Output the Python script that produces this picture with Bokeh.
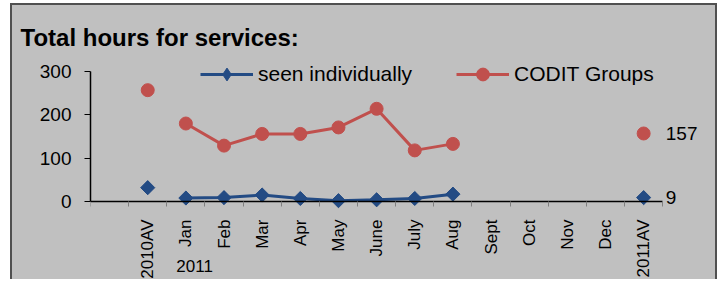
from bokeh.plotting import figure
from bokeh.models import (ColumnDataSource, FixedTicker, Range1d, Legend, LegendItem, Label)
from bokeh.embed import file_html
from bokeh.resources import INLINE
import math

# ---- data ----
categories = ["2010AV", "Jan", "Feb", "Mar", "Apr", "May", "June", "July",
              "Aug", "Sept", "Oct", "Nov", "Dec", "2011AV"]
months_with_data = ["Jan", "Feb", "Mar", "Apr", "May", "June", "July", "Aug"]
seen_individually = [8, 9, 15, 7, 2, 4, 7, 17]
codit_groups = [180, 129, 156, 156, 171, 214, 118, 133]
avg2010_individual = 32
avg2010_codit = 257
avg2011_individual = 9
avg2011_codit = 157
y_ticks = [0, 100, 200, 300]
year_label = "2011"
series_names = ["seen individually", "CODIT Groups"]

BLUE = "#234B84"
RED = "#C0504D"
BG = "#C0C0C0"
EDGE = "#505050"
FONT = "Liberation Sans"

pos = {c: i + 1.5 for i, c in enumerate(categories)}  # slot 0 is empty

p = figure(width=707, height=276, output_backend="svg", toolbar_location=None,
           x_range=Range1d(0, 16.2), y_range=Range1d(-180, 337),
           min_border_left=78, min_border_right=11, min_border_top=50,
           min_border_bottom=2)
p.background_fill_color = BG
p.border_fill_color = BG
p.outline_line_color = None
p.grid.visible = False
p.styles = {"margin-left": "10px", "margin-top": "3px", "background-color": BG,
            "border-left": f"2px solid {EDGE}", "border-top": f"2px solid {EDGE}",
            "border-right": f"2px solid {EDGE}"}

# title
p.title.text = "Total hours for services:"
p.title.text_font = FONT
p.title.text_font_size = "24px"
p.title.text_font_style = "bold"
p.title.text_color = "black"
p.title.align = "left"
p.title.offset = -70
p.title.standoff = 9

mx = [pos[m] for m in months_with_data]
av_x = [pos["2010AV"], pos["2011AV"]]
src_ind = ColumnDataSource(dict(x=mx, y=seen_individually))
src_cod = ColumnDataSource(dict(x=mx, y=codit_groups))
src_ind_all = ColumnDataSource(dict(x=[av_x[0]] + mx + [av_x[1]],
                                    y=[avg2010_individual] + seen_individually + [avg2011_individual]))
src_cod_all = ColumnDataSource(dict(x=[av_x[0]] + mx + [av_x[1]],
                                    y=[avg2010_codit] + codit_groups + [avg2011_codit]))

l1 = p.line("x", "y", source=src_ind, line_color=BLUE, line_width=3)
k1 = p.scatter("x", "y", source=src_ind_all, marker="diamond", size=13,
               fill_color=BLUE, line_color=BLUE)
p.scatter("x", "y", source=src_ind_all, marker="square", size=10, angle=math.pi / 4,
          fill_color=BLUE, line_color=BLUE)
l2 = p.line("x", "y", source=src_cod, line_color=RED, line_width=3)
k2 = p.scatter("x", "y", source=src_cod_all, marker="circle", size=13,
               fill_color=RED, line_color=RED)

# axes
xa = p.xaxis[0]
xa.fixed_location = 0
xa.bounds = (0, 15)
xa.ticker = FixedTicker(ticks=[pos[c] for c in categories],
                        minor_ticks=list(range(0, 16)))
xa.major_label_overrides = {pos[c]: c for c in categories}
xa.major_label_orientation = math.pi / 2
xa.major_tick_line_color = None
xa.major_tick_out = 0
xa.major_tick_in = 0
xa.minor_tick_line_color = "#808080"
xa.minor_tick_out = 5
xa.minor_tick_in = 0
xa.major_label_standoff = 13
xa.major_label_text_font = FONT
xa.major_label_text_font_size = "17px"
xa.major_label_text_color = "black"
xa.axis_line_color = "black"
xa.axis_line_width = 1.5

ya = p.yaxis[0]
ya.bounds = (0, 300)
ya.ticker = FixedTicker(ticks=y_ticks)
ya.minor_tick_line_color = None
ya.major_tick_out = 6
ya.major_tick_in = 0
ya.major_tick_line_color = "black"
ya.major_label_standoff = 13
ya.major_label_text_font = FONT
ya.major_label_text_font_size = "19px"
ya.major_label_text_color = "black"
ya.axis_line_color = "black"
ya.axis_line_width = 1.5

# labels
p.add_layout(Label(x=2.73, y=-148, text=year_label, text_align="center",
                   text_baseline="middle", text_font=FONT, text_font_size="17px",
                   text_color="black"))
p.add_layout(Label(x=15.08, y=avg2011_codit, text=str(avg2011_codit), text_align="left",
                   text_baseline="middle", text_font=FONT, text_font_size="19px",
                   text_color="black"))
p.add_layout(Label(x=15.08, y=avg2011_individual, text=str(avg2011_individual),
                   text_align="left", text_baseline="middle", text_font=FONT,
                   text_font_size="19px", text_color="black"))

legend = Legend(items=[LegendItem(label=series_names[0], renderers=[l1, k1]),
                       LegendItem(label=series_names[1], renderers=[l2, k2])],
                orientation="horizontal", location=(110, 189),
                padding=0, margin=0, spacing=44, glyph_width=53, glyph_height=32,
                label_height=20, label_standoff=5, label_text_font=FONT,
                label_text_font_size="21px", label_text_color="black",
                background_fill_alpha=0, border_line_color=None)
p.add_layout(legend, "center")

open("out.html", "w").write(file_html(p, INLINE))
